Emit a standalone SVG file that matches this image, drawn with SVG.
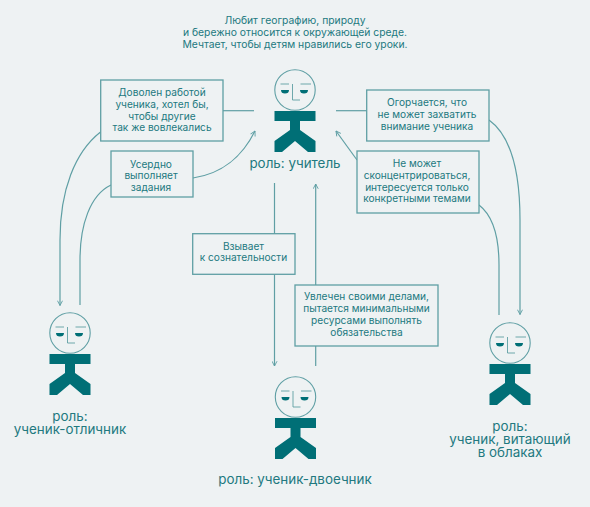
<svg xmlns="http://www.w3.org/2000/svg" width="590" height="507" viewBox="0 0 590 507">
<style>
text{font-family:"Inter","Liberation Sans",sans-serif;fill:#22797f;text-anchor:middle}
.t{font-size:10.15px}
.i{font-size:10.35px}
.r{font-size:13.4px}
.box{fill:#eef2f3;stroke:#5f9fa4;stroke-width:1.3}
.c{fill:none;stroke:#5f9fa4;stroke-width:1.2}
.body{fill:#006f76}
.head{fill:#eef2f3;stroke:#5f9fa4;stroke-width:1.1}
.ln{fill:none;stroke:#5f9fa4;stroke-width:.9}
.eye{fill:#006f76}
</style>
<defs>
<marker id="a" viewBox="0 0 10 10" refX="9" refY="5" markerWidth="6" markerHeight="6" markerUnits="userSpaceOnUse" orient="auto"><path d="M1 .8L9 5L1 9.2" fill="none" stroke="#5f9fa4" stroke-width="1.5"/></marker>
<g id="fig">
<circle class="head" cx="0" cy="0" r="20.2"/>
<path class="ln" d="M-14.500-6H-6M-2.500-6V10H5M5.500-6H16"/>
<path class="eye" d="M-14 0H-6A4 3.500 0 0 1-14 0ZM5 0H13A4 3.500 0 0 1 5 0Z"/>
<path class="body" d="M-20.500 21H20.500V31H5V40L20.500 51V62H13L0 51L-13 62H-20.500V51L-5 40V31H-20.500Z"/>
</g>
</defs>
<rect width="590" height="507" fill="#eef2f3"/>
<g id="connectors">
<path class="c" d="M223 110.700H254"/>
<path class="c" d="M367 110.700H336"/>
<path class="c" d="M100.500 132C75 152 60 190 60 240V305.500" marker-end="url(#a)"/>
<path class="c" d="M111 185C90 195 80 225 80 260V305"/>
<path class="c" d="M193 178C225 173 243 155 255 131" marker-end="url(#a)"/>
<path class="c" d="M357 160L336 131" marker-end="url(#a)"/>
<path class="c" d="M489 120C510 135 520 170 520 220V314.500" marker-end="url(#a)"/>
<path class="c" d="M479 205C492 215 499 235 499 265V315"/>
<path class="c" d="M274.500 183V366" marker-end="url(#a)"/>
<path class="c" d="M315.700 366V184" marker-end="url(#a)"/>
</g>
<text class="i" id="intro"><tspan x="295" y="24">Любит географию, природу</tspan><tspan x="295" y="36">и бережно относится к окружающей среде.</tspan><tspan x="295" y="48">Мечтает, чтобы детям нравились его уроки.</tspan></text>
<g id="box-dovolen"><rect class="box" x="100.700" y="80" width="122.300" height="61"/>
<text class="t"><tspan x="162" y="95.500">Доволен работой</tspan><tspan x="162" y="107.500">ученика, хотел бы,</tspan><tspan x="162" y="119.500">чтобы другие</tspan><tspan x="162" y="130.500">так же вовлекались</tspan></text></g>
<g id="box-userdno"><rect class="box" x="111" y="151" width="82" height="46"/>
<text class="t"><tspan x="151" y="167.500">Усердно</tspan><tspan x="151" y="179">выполняет</tspan><tspan x="151" y="190.500">задания</tspan></text></g>
<g id="box-ogorch"><rect class="box" x="366.700" y="90" width="122.300" height="51"/>
<text class="t"><tspan x="427" y="106">Огорчается, что</tspan><tspan x="427" y="118">не может захватить</tspan><tspan x="427" y="129.500">внимание ученика</tspan></text></g>
<g id="box-nemozhet"><rect class="box" x="357" y="151" width="122" height="62"/>
<text class="t"><tspan x="417" y="167">Не может</tspan><tspan x="417" y="179">сконцентрироваться,</tspan><tspan x="417" y="190.500">интересуется только</tspan><tspan x="417" y="202">конкретными темами</tspan></text></g>
<g id="box-vzyvaet"><rect class="box" x="192.700" y="233.700" width="102.300" height="40.600"/>
<text class="t"><tspan x="243.500" y="249.500">Взывает</tspan><tspan x="243.500" y="261">к сознательности</tspan></text></g>
<g id="box-uvlechen"><rect class="box" x="295" y="285" width="143" height="61"/>
<text class="t"><tspan x="366.500" y="300">Увлечен своими делами,</tspan><tspan x="366.500" y="312">пытается минимальными</tspan><tspan x="366.500" y="324">ресурсами выполнять</tspan><tspan x="366.500" y="335.500">обязательства</tspan></text></g>
<g id="teacher"><use href="#fig" x="295" y="90"/><text class="r" x="295" y="168">роль: учитель</text></g>
<g id="otlichnik"><use href="#fig" x="70" y="333"/><text class="r"><tspan x="70" y="421">роль:</tspan><tspan x="70" y="434">ученик-отличник</tspan></text></g>
<g id="dvoechnik"><use href="#fig" x="295.500" y="397"/><text class="r" x="295" y="484">роль: ученик-двоечник</text></g>
<g id="oblaka"><use href="#fig" x="510" y="343"/><text class="r"><tspan x="510" y="431">роль:</tspan><tspan x="510" y="444">ученик, витающий</tspan><tspan x="510" y="457">в облаках</tspan></text></g>
</svg>
